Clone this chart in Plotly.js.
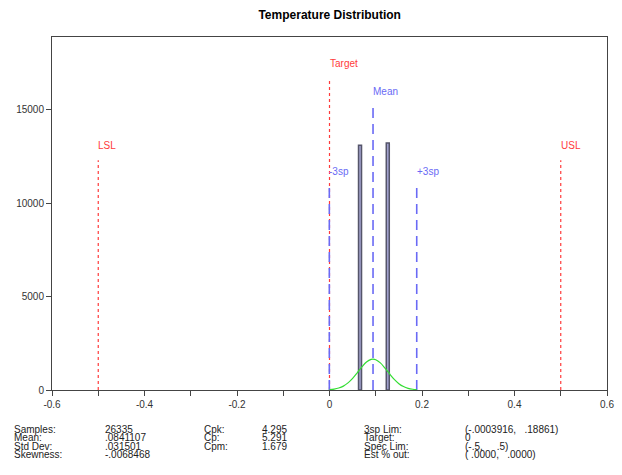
<!DOCTYPE html>
<html>
<head>
<meta charset="utf-8">
<script src="https://cdn.plot.ly/plotly-3.0.1.min.js"></script>
<style>html,body{margin:0;padding:0;background:#fff;}#chart{width:622px;height:475px;}</style>
</head>
<body>
<div id="chart"></div>
<script>
// Histogram bars (bin centers, counts)
const barX = [0.066, 0.126];
const barY = [13100, 13230];

// Fitted normal curve
const curveX = [0.00, 0.01, 0.02, 0.03, 0.04, 0.05, 0.06, 0.07, 0.08, 0.09, 0.094, 0.10, 0.11, 0.12, 0.13, 0.14, 0.15, 0.16, 0.17, 0.18, 0.189];
const curveY = [19, 47, 105, 209, 380, 622, 921, 1234, 1495, 1637, 1650, 1620, 1450, 1173, 859, 568, 340, 184, 90, 40, 17];

// Reference lines: name, x position, top value
const specNames = ["LSL", "Target", "USL"];
const specX = [-0.5, 0, 0.5];
const specTop = [12300, 16700, 12300];
const statNames = ["-3sp", "Mean", "+3sp"];
const statX = [-0.0003916, 0.0941107, 0.18861];
const statTop = [10900, 15100, 10900];

// Axis ticks
const xTickVals = [-0.6, -0.4, -0.2, 0, 0.2, 0.4, 0.6];
const xTickText = ["-0.6", "-0.4", "-0.2", "0", "0.2", "0.4", "0.6"];
const yTickVals = [0, 5000, 10000, 15000];
const yTickText = ["0", "5000", "10000", "15000"];

// Statistics table
const col1Labels = ["Samples:", "Mean:", "Std Dev:", "Skewness:"];
const col1Values = ["26335", ".0841107", ".031501", "-.0068468"];
const col2Labels = ["Cpk:", "Cp:", "Cpm:"];
const col2Values = ["4.295", "5.291", "1.679"];
const col3Labels = ["3sp Lim:", "Target:", "Spec Lim:", "Est % out:"];
const col3Values = ["(-.0003916,   .18861)", "0", "(-.5,     .5)", "( .0000,   .0000)"];

const red = "#ff3b3b";
const blue = "#6a6af5";

const traces = [];
specNames.forEach((n, i) => {
  traces.push({x: [specX[i], specX[i]], y: [0, specTop[i]], mode: "lines", type: "scatter",
    line: {color: red, width: 1.2, dash: "dot"}, hoverinfo: "skip", showlegend: false});
});
statNames.forEach((n, i) => {
  traces.push({x: [statX[i], statX[i]], y: [0, statTop[i]], mode: "lines", type: "scatter",
    line: {color: blue, width: 1.6, dash: "10px,6px"}, hoverinfo: "skip", showlegend: false});
});
traces.push({x: barX, y: barY, type: "bar", width: 0.0065,
  marker: {color: "#a3a3d0", line: {color: "#55556a", width: 1.5}}, showlegend: false});
traces.push({x: curveX, y: curveY, mode: "lines", type: "scatter", line: {color: "#33dd33", width: 1.2, shape: "spline"}, showlegend: false});

const annotations = [];
const lblFont = {family: "Liberation Sans, Arial, sans-serif", size: 10};
specNames.forEach((n, i) => {
  annotations.push({x: specX[i], y: specTop[i], xref: "x", yref: "y", text: n, showarrow: false,
    xanchor: "left", yanchor: "bottom", xshift: -2, yshift: 7, font: Object.assign({color: red}, lblFont)});
});
statNames.forEach((n, i) => {
  annotations.push({x: statX[i], y: statTop[i], xref: "x", yref: "y", text: n, showarrow: false,
    xanchor: "left", yanchor: "bottom", xshift: -2, yshift: n === "Mean" ? 9 : 7, font: Object.assign({color: blue}, lblFont)});
});
const tblFont = {family: "Liberation Sans, Arial, sans-serif", size: 10, color: "#222"};
const tableIdx = [];
function addCol(arr, xp, anchor) {
  tableIdx.push(annotations.length);
  annotations.push({x: xp, y: (390 - 422.5) / 353, xref: "paper", yref: "paper", text: arr.join("<br>"),
    showarrow: false, xanchor: anchor, yanchor: "top", align: anchor, font: tblFont});
}
function px(p) { return (p - 52) / 555; }
addCol(col1Labels, px(12), "left");
addCol(col1Values, px(103), "left");
addCol(col2Labels, px(202), "left");
addCol(col2Values, px(289), "right");
addCol(col3Labels, px(362), "left");
addCol(col3Values, px(463), "left");

const layout = {
  width: 622, height: 475,
  margin: {l: 52, r: 15, t: 37, b: 85},
  paper_bgcolor: "#fff", plot_bgcolor: "#fff",
  title: {text: "<b>Temperature Distribution</b>", x: 0.53, xanchor: "center", y: 0.968, yanchor: "middle",
    font: {family: "Liberation Sans, Arial, sans-serif", size: 12, color: "#000"}},
  xaxis: {range: [-0.6, 0.6], tickvals: xTickVals, ticktext: xTickText, showgrid: false, zeroline: false,
    showline: true, linecolor: "#444", linewidth: 1, mirror: true,
    ticks: "outside", ticklen: 5, tickcolor: "#444",
    minor: {dtick: 0.1, tick0: -0.6, ticks: "outside", ticklen: 5, tickcolor: "#444", showgrid: false},
    tickfont: {family: "Liberation Sans, Arial, sans-serif", size: 10, color: "#333"}},
  yaxis: {range: [0, 18900], tickvals: yTickVals, ticktext: yTickText, showgrid: false, zeroline: false,
    showline: true, linecolor: "#444", linewidth: 1, mirror: true,
    ticks: "outside", ticklen: 5, tickcolor: "#444",
    tickfont: {family: "Liberation Sans, Arial, sans-serif", size: 10, color: "#333"}},
  annotations: annotations,
  bargap: 0
};
Plotly.newPlot("chart", traces, layout, {displayModeBar: false, staticPlot: true}).then(() => {
  // tighten the line spacing of the statistics table to match the reference
  tableIdx.forEach(idx => {
    const g = document.querySelector('#chart .annotation[data-index="' + idx + '"]');
    if (!g) return;
    g.querySelectorAll('tspan.line').forEach(t => {
      const dy = parseFloat(t.getAttribute('dy') || '0');
      if (!isNaN(dy)) t.setAttribute('dy', (dy * 0.83 / 1.3) + 'em');
    });
  });
});
</script>
</body>
</html>
